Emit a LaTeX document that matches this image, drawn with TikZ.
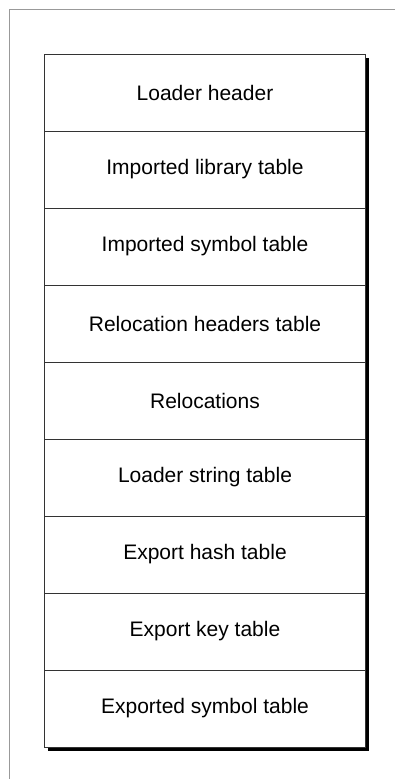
\documentclass[tikz,border=0pt]{standalone}
\usepackage{fontspec}
\setmainfont{Liberation Sans}
\usepackage{tikz}
\usetikzlibrary{positioning,shadows}

\begin{document}
\begin{tikzpicture}[x=1pt,y=1pt,
		part/.style={draw=black!80, line width=0.9pt, fill=white, inner sep=0pt, outer sep=0pt,
			minimum width=321pt, minimum height=77pt,
			font=\fontsize{21}{25}\selectfont}]
				\useasboundingbox (0,0) rectangle (395,-779);
				% grey page frame
				\draw[black!40, line width=1pt] (9.5,-779) -- (9.5,-9.5) -- (395,-9.5);
				% shadow of the whole stack
				\fill[black] (48,-57.5) rectangle (368.5,-750.5);
				\node[part, anchor=north west] (hdr) at (44.5,-54) {Loader header};
				\node[part, below=0pt of hdr] (lib) {Imported library table};
				\node[part, below=0pt of lib] (imp) {Imported symbol table};
				\node[part, below=0pt of imp] (relhdr) {Relocation headers table};
				\node[part, below=0pt of relhdr] (rel) {Relocations};
				\node[part, below=0pt of rel] (str) {Loader string table};
				\node[part, below=0pt of str] (hash) {Export hash table};
				\node[part, below=0pt of hash] (key) {Export key table};
				\node[part, below=0pt of key] (exp) {Exported symbol table};
			\end{tikzpicture}
\end{document}
